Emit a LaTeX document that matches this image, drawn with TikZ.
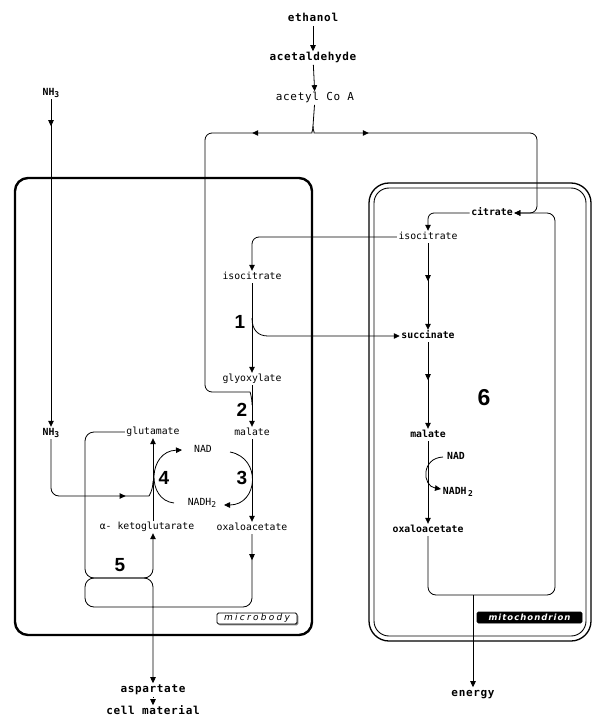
\documentclass[tikz,border=0pt]{standalone}
\usepackage{fontspec}
\setmainfont{DejaVu Sans}
\newfontfamily\monof{DejaVu Sans Mono}
\newfontfamily\monosp[LetterSpace=6]{DejaVu Sans Mono}
\newfontfamily\numf{Liberation Sans}
\newfontfamily\tagf[LetterSpace=25]{DejaVu Sans}
\newfontfamily\tagg[LetterSpace=12]{DejaVu Sans}
\newcommand{\subsc}[1]{\raisebox{-2.2pt}{\fontsize{8}{9}\selectfont #1}}
\usetikzlibrary{arrows.meta,decorations.markings,shadows}
\tikzset{
  tri/.tip={Triangle[length=6pt,width=5.5pt]},
  con/.style={line width=0.8pt},
  arr/.style={con,-tri},
  midtip/.style={postaction={decorate},decoration={markings,mark=at position #1 with {\arrow{tri}}}},
  lab/.style={font=\monof\fontsize{9.8}{11}\selectfont,inner sep=1.5pt,text height=7pt,text depth=2pt},
  blab/.style={lab,font=\monof\bfseries\fontsize{9.8}{11}\selectfont},
  olab/.style={font=\monosp\bfseries\fontsize{11}{13}\selectfont,inner sep=1.5pt,text height=8pt,text depth=2.2pt},
  num/.style={font=\numf\bfseries\fontsize{19}{21}\selectfont,inner sep=0pt},
  tagbox/.style={draw,line width=0.8pt,rounded corners=1.5pt,inner sep=0pt,minimum height=11pt},
}
\begin{document}
\begin{tikzpicture}[x=1pt,y=-1pt]
\useasboundingbox (0,0) rectangle (593,719);
% compartments
\draw[line width=2.4pt, rounded corners=13pt] (15,178) rectangle (312,635);
\draw[line width=1.3pt, rounded corners=20pt] (369,183) rectangle (591,641);
\draw[line width=0.9pt, rounded corners=15pt] (374,188) rectangle (586,636);

% outside labels
\node[olab] (eth) at (313,19) {ethanol};
\node[olab] (ald) at (313,58) {acetaldehyde};
\node[olab, font=\monosp\fontsize{11}{13}\selectfont] (aco) at (315,98) {acetyl Co A};
\node[blab] (nh3a) at (51,93) {NH\subsc{3}};
\node[blab] (nh3b) at (51,433) {NH\subsc{3}};
\node[olab] (asp) at (153,690) {aspartate};
\node[olab] (cell) at (153,712) {cell material};
\node[olab] (energy) at (473,694) {energy};

% microbody
\node[lab] (iso1) at (252,277) {isocitrate};
\node[lab] (gly) at (252,379) {glyoxylate};
\node[lab] (mal1) at (252,433) {malate};
\node[lab] (oaa1) at (252,528) {oxaloacetate};
\node[lab] (glu) at (153,432) {glutamate};
\node[lab] (akg) at (147,527) {α- ketoglutarate};
\node[lab] (nad1) at (203,450) {NAD};
\node[lab] (nadh1) at (202,503) {NADH\subsc{2}};

% mitochondrion
\node[blab] (cit) at (492,213) {citrate};
\node[lab] (iso2) at (428,237) {isocitrate};
\node[blab] (suc) at (428,336) {succinate};
\node[blab] (mal2) at (428,435) {malate};
\node[blab] (oaa2) at (428,530) {oxaloacetate};
\node[blab] (nad2) at (456,457) {NAD};
\node[blab] (nadh2) at (458,492) {NADH\,\subsc{2}};

% step numbers
\node[num] (n1) at (240,322) {1};
\node[num] (n2) at (242,410) {2};
\node[num] (n3) at (242,478) {3};
\node[num] (n4) at (164,478) {4};
\node[num] (n5) at (120,565) {5};
\node[num, font=\numf\bfseries\fontsize{23}{25}\selectfont] (n6) at (484,398) {6};

% compartment tags
\node[tagbox, fill=white, minimum width=80pt, font=\tagf\itshape\fontsize{9}{10}\selectfont,
      drop shadow={opacity=1,shadow xshift=1.3pt,shadow yshift=-1.3pt}] (mbtag) at (257,618.5) {microbody};
\node[tagbox, fill=black, text=white, minimum width=105pt, font=\tagg\bfseries\itshape\fontsize{8.5}{10}\selectfont] (mttag) at (529.5,617.5) {mitochondrion};

% top chain
\draw[arr] (eth) -- (ald);
\draw[arr] (ald) -- (aco);
\coordinate (br) at (313,126);
\draw[con] (aco) -- (br);
\draw[con, rounded corners=7pt, midtip=67pt] (br) .. controls (313,131) and (311,133) .. (305,133) -- (205,133) -- (205,392) -- (243,392) .. controls (250,392) and (252,397) .. (252,405);
\draw[con, rounded corners=7pt, midtip=62pt, -tri] (br) .. controls (313,131) and (315,133) .. (321,133) -- (537,133) -- (537,213) -- (cit.east);

% mitochondrial cycle
\draw[con, rounded corners=8pt, -tri] (oaa2) -- (428,595) -- (555,595) -- (555,213) -- (cit.east);
\coordinate (eb) at (473,595);
\draw[arr] (eb) -- (energy);
\draw[con, rounded corners=6pt, -tri] (cit.west) -- (428,213) -- (iso2.north);
\draw[con, midtip=38pt, -tri] (iso2) -- (suc);
\draw[con, midtip=38pt, -tri] (suc) -- (mal2);
\draw[arr] (mal2) -- (oaa2);
\coordinate (m6s) at (443,457);
\coordinate (m6e) at (441,489);
\draw[con, -tri] (m6s) .. controls (421,458) and (422,486) .. (m6e);

% glyoxylate cycle
\draw[con, rounded corners=7pt, -tri] (iso2.west) -| (iso1.north);
\draw[arr] (iso1) -- (gly);
\coordinate (b1) at (252,318);
\draw[con, -tri] (b1) .. controls (252,330) and (258,336) .. (268,336) -- (suc.west);
\draw[arr] (gly) -- (mal1);
\draw[arr] (mal1) -- (oaa1);
\coordinate (a3s) at (230,452);
\coordinate (a3e) at (224,505);
\draw[con, -tri] (a3s) .. controls (262,458) and (258,505) .. (a3e);
\coordinate (a4s) at (174,503);
\coordinate (a4e) at (182,450);
\draw[con, -tri] (a4s) .. controls (146,500) and (148,451) .. (a4e);

% ammonia and transamination
\draw[con, midtip=27pt, -tri] (nh3a) -- (nh3b);
\draw[con, rounded corners=8pt, midtip=128pt] (nh3b) -- (51,496) -- (141,496) .. controls (149,496) and (153,490) .. (153,481);
\draw[arr] (glu.south |- akg.north) -- (glu.south);
\draw[con, rounded corners=9pt, -tri] (glu.west) -- (85,432) -- (85,578) -- (153,578) -- (glu.south |- akg.south);
\draw[con, rounded corners=9pt, midtip=26pt, -tri] (oaa1.south) -- (252,607) -- (85,607) -- (85,578) -- (153,578) -- (asp.north);
\draw[con, dash pattern=on 1.5pt off 1.5pt, -tri] (asp) -- (cell);
\end{tikzpicture}
\end{document}
